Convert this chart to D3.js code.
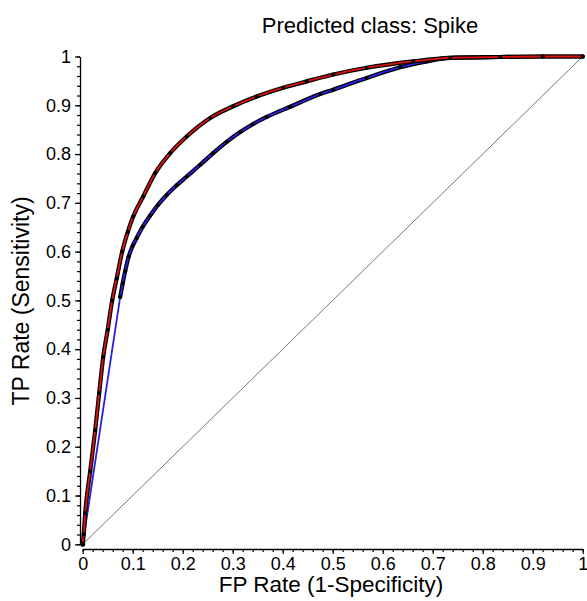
<!DOCTYPE html>
<meta charset="utf-8">
<head>
<style>
	body {
	margin: 0;
	background-color: white;
	font-family: 'Liberation Sans', Arial, sans-serif;
	}
</style>
</head>
<body>
<div id="my_dataviz"></div>
<script src="https://d3js.org/d3.v7.min.js"></script>
<script>

// ROC points
var redX = [0, 0.002, 0.005, 0.015, 0.025, 0.033, 0.041, 0.05, 0.059, 0.068, 0.079, 0.09, 0.101, 0.121, 0.145, 0.175, 0.208, 0.255, 0.301, 0.348, 0.401, 0.448, 0.501, 0.568, 0.661, 0.735, 0.835, 0.92, 1]
var redY = [0, 0.02, 0.064, 0.15, 0.234, 0.31, 0.384, 0.44, 0.5, 0.545, 0.6, 0.64, 0.672, 0.713, 0.761, 0.802, 0.836, 0.874, 0.898, 0.918, 0.936, 0.949, 0.963, 0.977, 0.99, 0.997, 0.999, 1, 1]

var blueX = [0, 0.075, 0.08, 0.085, 0.092, 0.1, 0.108, 0.12, 0.135, 0.15, 0.168, 0.188, 0.208, 0.235, 0.261, 0.288, 0.315, 0.34, 0.368, 0.415, 0.475, 0.501, 0.568, 0.635, 0.688, 0.735, 0.835, 0.92, 1]
var blueY = [0, 0.507, 0.535, 0.56, 0.59, 0.612, 0.628, 0.651, 0.674, 0.695, 0.716, 0.736, 0.754, 0.778, 0.802, 0.825, 0.845, 0.861, 0.876, 0.897, 0.923, 0.932, 0.956, 0.978, 0.99, 0.997, 0.999, 1, 1]

var majorTicks = [0, 0.1, 0.2, 0.3, 0.4, 0.5, 0.6, 0.7, 0.8, 0.9, 1]
var minorTicks = d3.range(0, 51).map(function(i) { return i / 50 })

var width = 587, height = 601

var svg = d3.select("#my_dataviz")
  .append("svg")
  .attr("width", width)
  .attr("height", height)

var x = d3.scaleLinear().domain([0, 1]).range([82.7, 582.7])
var y = d3.scaleLinear().domain([0, 1]).range([544.3, 56.5])

var fmt = function(d) { return d === 0 ? "0" : d === 1 ? "1" : d3.format(".1f")(d) }

// x axis, pushed a little below the plot
var gx = svg.append("g").attr("transform", "translate(0,549)")
gx.call(d3.axisBottom(x).tickValues(minorTicks).tickSize(3).tickSizeOuter(0).tickFormat(""))
var gx2 = svg.append("g").attr("transform", "translate(0,549)")
gx2.call(d3.axisBottom(x).tickValues(majorTicks).tickSize(5).tickSizeOuter(0).tickFormat(fmt))
gx2.select(".domain").remove()
gx2.selectAll("text").attr("y", 8).style("font-size", "18px").style("font-family", "'Liberation Sans', Arial, sans-serif")

// y axis, pushed a little left
var gy = svg.append("g").attr("transform", "translate(80,0)")
gy.call(d3.axisLeft(y).tickValues(minorTicks).tickSize(3).tickSizeOuter(0).tickFormat(""))
var gy2 = svg.append("g").attr("transform", "translate(80,0)")
gy2.call(d3.axisLeft(y).tickValues(majorTicks).tickSize(5).tickSizeOuter(0).tickFormat(fmt))
gy2.select(".domain").remove()
gy2.selectAll("text").attr("x", -9).style("font-size", "18px").style("font-family", "'Liberation Sans', Arial, sans-serif")

svg.selectAll(".domain").attr("stroke-width", 1.3)
svg.selectAll(".tick line").attr("stroke-width", 1.2)

// chance diagonal
svg.append("line")
  .attr("x1", x(0)).attr("y1", y(0))
  .attr("x2", x(1)).attr("y2", y(1))
  .attr("stroke", "#555")
  .attr("stroke-width", 0.8)

var line = d3.line()
  .curve(d3.curveMonotoneX)
  .x(function(d) { return x(d[0]) })
  .y(function(d) { return y(d[1]) })

function drawCurve(xs, ys, color, bandStart) {
  var pts = xs.map(function(v, i) { return [v, ys[i]] })
  svg.append("path")
    .datum(pts.slice(bandStart))
    .attr("d", line)
    .attr("fill", "none")
    .attr("stroke", "black")
    .attr("stroke-width", 4.2)
    .attr("stroke-linejoin", "round")
    .attr("stroke-linecap", "round")
  svg.append("path")
    .datum(pts.slice(0, bandStart + 1))
    .attr("d", d3.line().x(function(d) { return x(d[0]) }).y(function(d) { return y(d[1]) }))
    .attr("fill", "none")
    .attr("stroke", color)
    .attr("stroke-width", 1.8)
  svg.append("path")
    .datum(pts.slice(bandStart))
    .attr("d", line)
    .attr("fill", "none")
    .attr("stroke", color)
    .attr("stroke-width", 1.8)
  svg.selectAll(null)
    .data(pts.slice(bandStart))
    .enter()
    .append("circle")
      .attr("cx", function(d) { return x(d[0]) })
      .attr("cy", function(d) { return y(d[1]) })
      .attr("r", 2)
      .attr("fill", "black")
}

drawCurve(blueX, blueY, "#2a1fe0", 1)
drawCurve(redX, redY, "#dd1111", 0)

svg.append("circle").attr("cx", x(0)).attr("cy", y(0)).attr("r", 2.5).attr("fill", "black")

// titles
svg.append("text")
  .attr("x", 370).attr("y", 33)
  .attr("text-anchor", "middle")
  .style("font-size", "22px")
  .text("Predicted class: Spike")

svg.append("text")
  .attr("x", 331).attr("y", 592)
  .attr("text-anchor", "middle")
  .style("font-size", "22.5px")
  .text("FP Rate (1-Specificity)")

svg.append("text")
  .attr("transform", "translate(29,301) rotate(-90)")
  .attr("text-anchor", "middle")
  .style("font-size", "23px")
  .text("TP Rate (Sensitivity)")

</script>
</body>
